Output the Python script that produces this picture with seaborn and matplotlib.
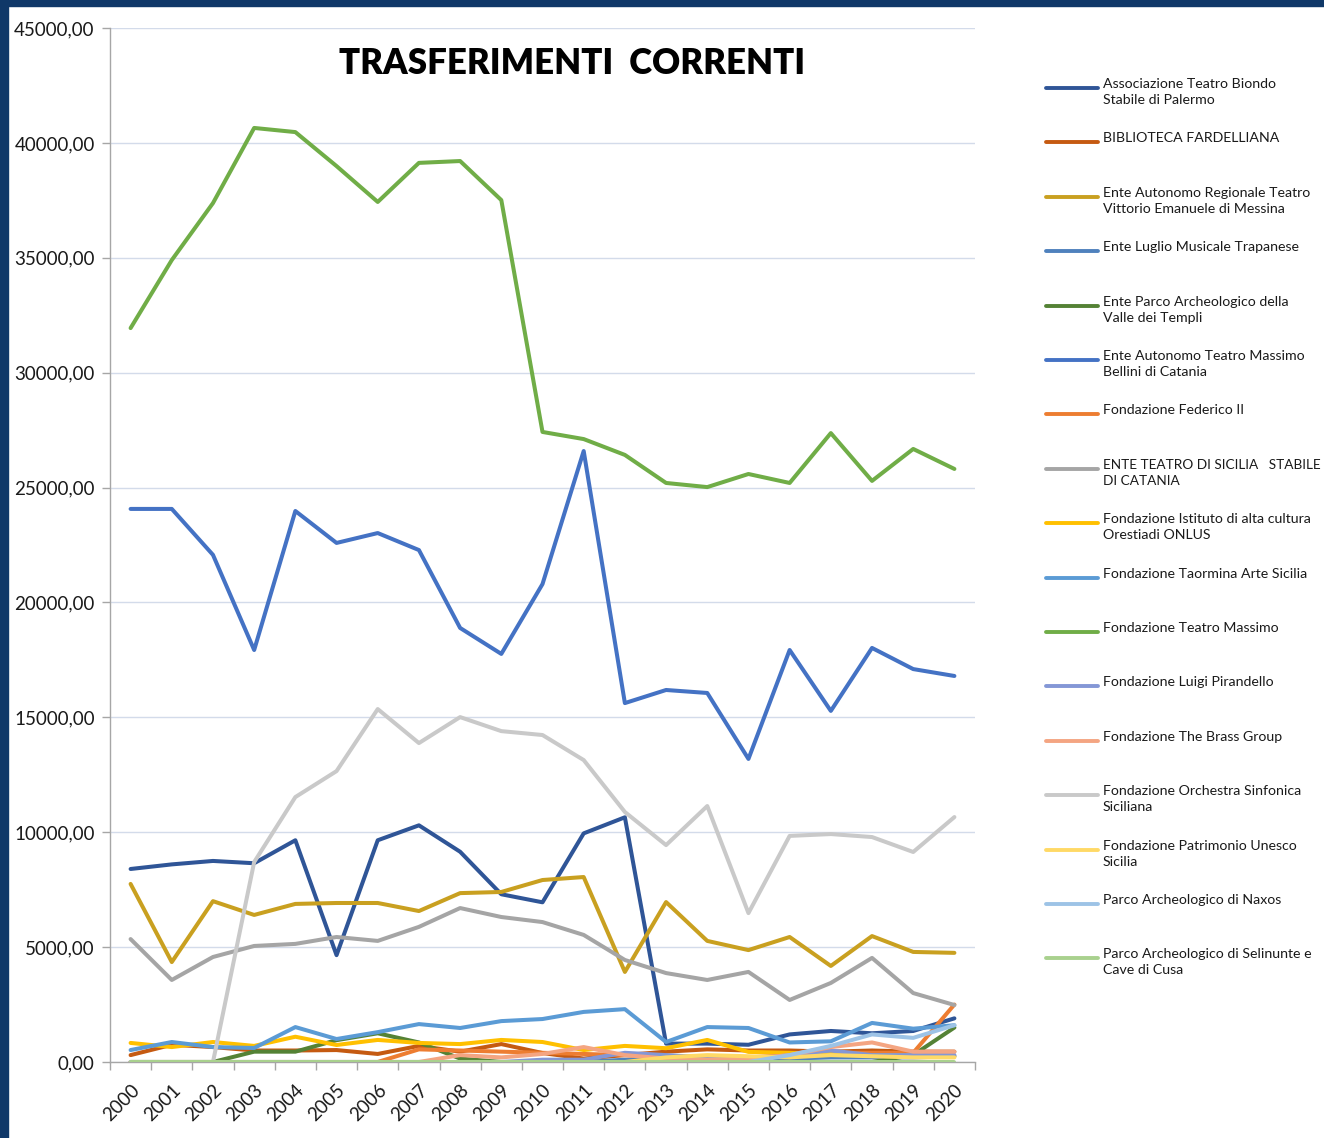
import pandas as pd
import matplotlib.pyplot as plt
import seaborn as sns
from matplotlib.lines import Line2D
from matplotlib.patches import Rectangle
from matplotlib.ticker import FuncFormatter, FixedLocator

years = list(range(2000, 2021))

series_names = [
    'Associazione Teatro Biondo\nStabile di Palermo',
    'BIBLIOTECA FARDELLIANA',
    'Ente Autonomo Regionale Teatro\nVittorio Emanuele di Messina',
    'Ente Luglio Musicale Trapanese',
    'Ente Parco Archeologico della\nValle dei Templi',
    'Ente Autonomo Teatro Massimo\nBellini di Catania',
    'Fondazione Federico II',
    'ENTE TEATRO DI SICILIA   STABILE\nDI CATANIA',
    'Fondazione Istituto di alta cultura\nOrestiadi ONLUS',
    'Fondazione Taormina Arte Sicilia',
    'Fondazione Teatro Massimo',
    'Fondazione Luigi Pirandello',
    'Fondazione The Brass Group',
    'Fondazione Orchestra Sinfonica\nSiciliana',
    'Fondazione Patrimonio Unesco\nSicilia',
    'Parco Archeologico di Naxos',
    'Parco Archeologico di Selinunte e\nCave di Cusa',
]

series_colors = [
    '#2f5597', '#c55a11', '#c9a020', '#4f81bd', '#548235', '#4472c4',
    '#ed7d31', '#a5a5a5', '#ffc000', '#5b9bd5', '#70ad47', '#8497d6',
    '#f4a582', '#c9c9c9', '#ffd966', '#9dc3e6', '#a9d18e',
]

biondo = [8400, 8600, 8750, 8650, 9650, 4650, 9650, 10300, 9150, 7300, 6950,
          9950, 10650, 800, 800, 750, 1200, 1350, 1250, 1350, 1900]
fardelliana = [300, 750, 650, 500, 500, 520, 350, 700, 450, 780, 390,
               150, 300, 450, 550, 500, 500, 450, 500, 450, 450]
vittorio_emanuele = [7750, 4350, 7000, 6400, 6880, 6920, 6920, 6570, 7350, 7400, 7920,
                     8050, 3920, 6960, 5270, 4870, 5440, 4180, 5480, 4790, 4750]
luglio_musicale = [0, 0, 0, 0, 0, 0, 0, 0, 0, 0, 0,
                   0, 100, 150, 100, 100, 150, 200, 200, 200, 250]
valle_templi = [0, 0, 0, 450, 450, 950, 1250, 850, 150, 0, 0,
                0, 0, 0, 0, 0, 0, 0, 0, 300, 1500]
bellini = [24070, 24070, 22070, 17930, 23980, 22590, 23020, 22280, 18890, 17760, 20800,
           26590, 15620, 16190, 16060, 13190, 17930, 15280, 18020, 17100, 16800]
federico_ii = [0, 0, 0, 0, 0, 0, 0, 550, 500, 450, 400,
               350, 300, 200, 200, 200, 300, 400, 400, 400, 2500]
teatro_sicilia = [5350, 3570, 4570, 5050, 5140, 5440, 5270, 5880, 6700, 6310, 6090,
                  5530, 4440, 3870, 3570, 3920, 2700, 3440, 4530, 3000, 2480]
orestiadi = [830, 650, 870, 700, 1100, 740, 960, 830, 780, 960, 870,
             520, 700, 600, 960, 440, 400, 350, 300, 300, 250]
taormina = [520, 870, 650, 610, 1520, 1000, 1300, 1650, 1480, 1780, 1870,
            2180, 2300, 870, 1520, 1480, 850, 900, 1700, 1450, 1600]
teatro_massimo = [31940, 34900, 37380, 40650, 40470, 38990, 37430, 39130, 39210, 37510, 27420,
                  27110, 26420, 25200, 25020, 25590, 25200, 27370, 25290, 26680, 25810]
pirandello = [0, 0, 0, 0, 0, 0, 0, 0, 0, 0, 100,
              100, 400, 300, 200, 100, 300, 500, 300, 300, 300]
brass_group = [0, 0, 0, 0, 0, 0, 0, 0, 300, 200, 350,
               650, 300, 150, 100, 150, 300, 650, 850, 450, 450]
orchestra_sinfonica = [0, 0, 0, 8700, 11530, 12660, 15360, 13880, 15010, 14400, 14230,
                       13140, 10880, 9440, 11140, 6480, 9840, 9920, 9790, 9140, 10660]
unesco = [0, 0, 0, 0, 0, 0, 0, 0, 0, 0, 0,
          0, 0, 200, 300, 250, 200, 300, 250, 200, 200]
naxos = [0, 0, 0, 0, 0, 0, 0, 0, 0, 0, 0,
         0, 0, 0, 0, 0, 300, 700, 1200, 1050, 1600]
selinunte = [0] * 21

values = [biondo, fardelliana, vittorio_emanuele, luglio_musicale, valle_templi, bellini,
          federico_ii, teatro_sicilia, orestiadi, taormina, teatro_massimo, pirandello,
          brass_group, orchestra_sinfonica, unesco, naxos, selinunte]

yticks = list(range(0, 45001, 5000))

rows = []
for name, vals in zip(series_names, values):
    for y, v in zip(years, vals):
        rows.append({'Anno': y, 'Valore': v, 'Ente': name})
df = pd.DataFrame(rows)

sns.set_theme(style='white')
plt.rcParams['font.family'] = ['Lato', 'DejaVu Sans']

W, H = 1324, 1138
fig = plt.figure(figsize=(W / 100, H / 100), dpi=100)
ax = fig.add_axes([110 / W, 1 - 1062 / H, 865 / W, 1034 / H])

palette = dict(zip(series_names, series_colors))
sns.lineplot(data=df, x='Anno', y='Valore', hue='Ente', hue_order=series_names,
             palette=palette, linewidth=2.9, legend=False, ax=ax, zorder=3)

ax.set_xlim(years[0] - 0.5, years[-1] + 0.5)
ax.set_ylim(0, 45000)
ax.set_yticks(yticks)
ax.yaxis.set_major_formatter(FuncFormatter(lambda v, p: f'{v:.2f}'.replace('.', ',')))
ax.grid(axis='y', color='#d3dbea', linewidth=1, zorder=0)
ax.grid(axis='x', visible=False)

# category ticks between years, labels on the years
ax.xaxis.set_major_locator(FixedLocator([y - 0.5 for y in years] + [years[-1] + 0.5]))
ax.xaxis.set_minor_locator(FixedLocator(years))
ax.set_xticklabels([])
ax.set_xticklabels([str(y) for y in years], minor=True, rotation=45,
                   ha='right', rotation_mode='anchor', fontsize=13.5)
ax.tick_params(axis='x', which='major', bottom=True, length=6, color='#a6a6a6', width=1)
ax.tick_params(axis='x', which='minor', bottom=True, length=0, pad=14, colors='#1a1a1a')
ax.tick_params(axis='y', left=True, length=6, color='#a6a6a6', width=1, labelsize=13.5,
               pad=5, labelcolor='#1a1a1a')
ax.set_xlabel('')
ax.set_ylabel('')

for s in ['top', 'right']:
    ax.spines[s].set_visible(False)
for s in ['left', 'bottom']:
    ax.spines[s].set_color('#a6a6a6')
    ax.spines[s].set_linewidth(1)

ax.text(0.534, 0.966, 'TRASFERIMENTI  CORRENTI', transform=ax.transAxes,
        ha='center', va='center', fontsize=25, fontweight='heavy', color='black')

# legend drawn beside the plot, handle level with the first text line
renderer = fig.canvas.get_renderer()
for i, (name, color) in enumerate(zip(series_names, series_colors)):
    yp = 88 + i * 54.4
    fig.add_artist(Line2D([1046 / W, 1098 / W], [1 - yp / H, 1 - yp / H],
                          transform=fig.transFigure, color=color, linewidth=2.8))
    t = fig.text(1103 / W, 1 - (yp - 10) / H, name, ha='left', va='top',
                 fontsize=10.2, linespacing=1.4, color='#1a1a1a')
    right = t.get_window_extent(renderer).x1
    if right > W - 4:
        t.set_fontsize(10.2 * (W - 4 - 1103) / (right - 1103))

# dark frame on the left and top edges
fig.add_artist(Rectangle((0, 0), 8 / W, 1, transform=fig.transFigure,
                         color='#0f3868', zorder=10))
fig.add_artist(Rectangle((0, 1 - 6 / H), 1, 6 / H, transform=fig.transFigure,
                         color='#0f3868', zorder=10))

fig.savefig('out.png', dpi=100)
